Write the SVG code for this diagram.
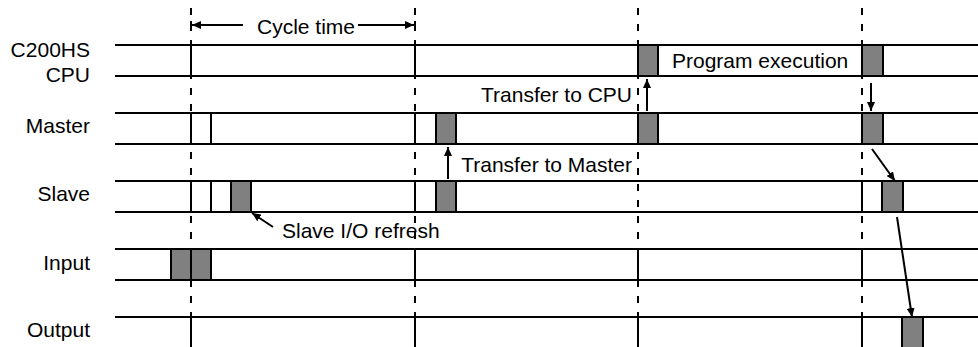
<svg xmlns="http://www.w3.org/2000/svg" width="978" height="347" viewBox="0 0 978 347">
<style>
.lane{stroke:#000;stroke-width:2;fill:none}
.solid{stroke:#000;stroke-width:2;fill:none}
.dash{stroke:#000;stroke-width:2;fill:none;stroke-dasharray:7 9}
.gray{fill:#808080;stroke:#000;stroke-width:2}
.arr{stroke:#000;stroke-width:2;fill:none;marker-end:url(#ah)}
text{font-family:"Liberation Sans",Arial,sans-serif;font-size:21px;fill:#000}
.lbl{text-anchor:end}
</style>
<defs>
<marker id="ah" markerUnits="userSpaceOnUse" markerWidth="10" markerHeight="8" refX="9" refY="4" orient="auto">
<path d="M0,0 L9,4 L0,8 Z" fill="#000"/>
</marker>
</defs>
<rect width="978" height="347" fill="#fff"/>
<g id="gridlines">
<path class="dash" d="M191,8 V347 M415,8 V347 M638,8 V347 M862,8 V347"/>
</g>
<g id="lane-cpu">
<text class="lbl" x="90" y="57">C200HS</text>
<text class="lbl" x="90" y="82">CPU</text>
<path class="lane" d="M115,45 H978 M115,76 H978"/>
<path class="solid" d="M191,45 V76 M415,45 V76"/>
<rect class="gray" x="638" y="45" width="20" height="31"/>
<rect class="gray" x="862" y="45" width="21" height="31"/>
<text x="672" y="68">Program execution</text>
</g>
<g id="lane-master">
<text class="lbl" x="90" y="133">Master</text>
<path class="lane" d="M115,113 H978 M115,144 H978"/>
<path class="solid" d="M191,113 V144 M211,113 V144 M415,113 V144"/>
<rect class="gray" x="436" y="113" width="20" height="31"/>
<rect class="gray" x="638" y="113" width="20" height="31"/>
<rect class="gray" x="862" y="113" width="21" height="31"/>
</g>
<g id="lane-slave">
<text class="lbl" x="90" y="201">Slave</text>
<path class="lane" d="M115,181 H978 M115,212 H978"/>
<path class="solid" d="M191,181 V212 M211,181 V212 M415,181 V212 M862,181 V212"/>
<rect class="gray" x="231" y="181" width="20" height="31"/>
<rect class="gray" x="436" y="181" width="20" height="31"/>
<rect class="gray" x="882" y="181" width="21" height="31"/>
</g>
<g id="lane-input">
<text class="lbl" x="90" y="270">Input</text>
<path class="lane" d="M115,249 H978 M115,280 H978"/>
<rect class="gray" x="171" y="249" width="40" height="31"/>
<path class="solid" d="M191,249 V280 M415,249 V280 M638,249 V280 M862,249 V280"/>
</g>
<g id="lane-output">
<text class="lbl" x="90" y="337">Output</text>
<path class="lane" d="M115,317 H978"/>
<path class="solid" d="M191,317 V347 M415,317 V347 M638,317 V347 M862,317 V347"/>
<rect class="gray" x="902" y="317" width="21" height="32"/>
</g>
<g id="connectors">
<path class="solid" d="M191,21 V30 M415,21 V30"/>
<path class="arr" d="M243,25 H192"/>
<path class="arr" d="M358,25 H414"/>
<path class="arr" d="M647,111 V79"/>
<path class="arr" d="M448,179 V147"/>
<path class="arr" d="M871,83 V111"/>
<path class="arr" d="M872,149 L895,181"/>
<path class="arr" d="M897,217 L912,317"/>
<path class="arr" d="M273,227 L252,213"/>
</g>
<g id="labels">
<text x="257" y="34">Cycle time</text>
<text x="632" y="102" text-anchor="end">Transfer to CPU</text>
<text x="632" y="172" text-anchor="end">Transfer to Master</text>
<text x="282" y="238">Slave I/O refresh</text>
</g>
</svg>
